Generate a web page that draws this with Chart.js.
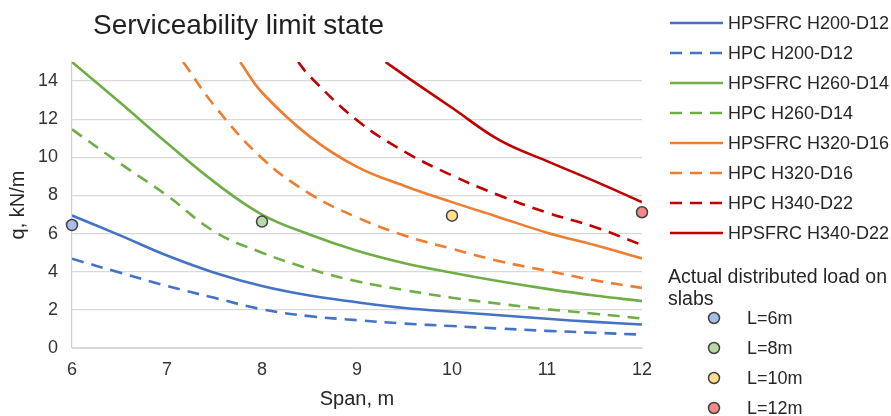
<!DOCTYPE html>
<html><head><meta charset="utf-8">
<script src="https://cdn.jsdelivr.net/npm/chart.js@4.4.1/dist/chart.umd.min.js"></script>
<style>
html,body{margin:0;padding:0;background:#fff;}
#wrap{position:relative;width:891px;height:416px;overflow:hidden;font-family:"Liberation Sans",Arial,sans-serif;color:#262626;}
#c{position:absolute;left:0;top:0;}
#title{position:absolute;left:93px;top:8px;font-size:28px;line-height:34px;white-space:nowrap;color:#1f1f1f;}
.leg{position:absolute;font-size:18px;line-height:22px;white-space:nowrap;}
.legsym{position:absolute;}
</style></head><body>
<div id="wrap">
<canvas id="c" width="891" height="416"></canvas>
<div id="title">Serviceability limit state</div>
<div id="legend"></div>
</div>
<script>
// ---- data ----
const spans = [6, 6.5, 7, 7.5, 8, 8.5, 9, 9.5, 10, 10.5, 11, 11.5, 12];
const hpsfrcH200D12 = [6.95, 5.92, 4.85, 3.95, 3.25, 2.75, 2.4, 2.1, 1.9, 1.72, 1.53, 1.37, 1.23];
const hpcH200D12    = [4.68, 3.96, 3.25, 2.63, 2.03, 1.67, 1.46, 1.28, 1.15, 1.02, 0.9, 0.8, 0.7];
const hpsfrcH260D14 = [15.0, 12.9, 10.75, 8.7, 7.0, 5.95, 5.1, 4.45, 3.95, 3.5, 3.1, 2.75, 2.46];
const hpcH260D14    = [11.47, 9.7, 8.0, 6.1, 5.0, 4.15, 3.5, 3.04, 2.64, 2.32, 2.03, 1.8, 1.55];
const spansH320S = [7.77, 8, 8.5, 9, 9.5, 10, 10.5, 11, 11.5, 12];
const hpsfrcH320D16 = [15.0, 13.4, 11.1, 9.5, 8.5, 7.65, 6.85, 6.05, 5.4, 4.7];
const spansH320C = [7.17, 7.5, 8, 8.5, 9, 9.5, 10, 10.5, 11, 11.5, 12];
const hpcH320D16    = [15.0, 12.7, 9.95, 8.1, 6.85, 5.9, 5.2, 4.55, 4.05, 3.55, 3.15];
const spansH340C = [8.38, 8.5, 9, 9.5, 10, 10.5, 11, 11.5, 12];
const hpcH340D22    = [15.0, 14.26, 11.94, 10.3, 9.05, 8.0, 7.1, 6.35, 5.4];
const spansH340S = [9.3, 9.5, 10, 10.5, 11, 11.5, 12];
const hpsfrcH340D22 = [15.0, 14.3, 12.6, 10.9, 9.8, 8.75, 7.65];
const loadLabels = ['L=6m', 'L=8m', 'L=10m', 'L=12m'];
const loadSpans = [6, 8, 10, 12];
const loadValues = [6.45, 6.63, 6.94, 7.12];
const yTicks = [0, 2, 4, 6, 8, 10, 12, 14];
const xTicks = [6, 7, 8, 9, 10, 11, 12];

// ---- styling ----
const BLUE = '#4472C4', GREEN = '#70AD47', ORANGE = '#ED7D31', RED = '#C00000';
const loadColors = ['#A7BFE8', '#B9D9A8', '#FFE08A', '#F28A8A'];
const DASH = [12, 8];

const series = [
  {label: 'HPSFRC H200-D12', xs: spans, ys: hpsfrcH200D12, color: BLUE, dashed: false},
  {label: 'HPC H200-D12', xs: spans, ys: hpcH200D12, color: BLUE, dashed: true},
  {label: 'HPSFRC H260-D14', xs: spans, ys: hpsfrcH260D14, color: GREEN, dashed: false},
  {label: 'HPC H260-D14', xs: spans, ys: hpcH260D14, color: GREEN, dashed: true},
  {label: 'HPSFRC H320-D16', xs: spansH320S, ys: hpsfrcH320D16, color: ORANGE, dashed: false},
  {label: 'HPC H320-D16', xs: spansH320C, ys: hpcH320D16, color: ORANGE, dashed: true},
  {label: 'HPC H340-D22', xs: spansH340C, ys: hpcH340D22, color: RED, dashed: true},
  {label: 'HPSFRC H340-D22', xs: spansH340S, ys: hpsfrcH340D22, color: RED, dashed: false}
];

const datasets = [{
  type: 'scatter',
  label: 'Actual distributed load on slabs',
  data: loadSpans.map((x, i) => ({x: x, y: loadValues[i]})),
  backgroundColor: loadColors,
  borderColor: '#404040',
  borderWidth: 1.5,
  pointRadius: 5.5,
  clip: false,
  order: 0
}].concat(series.map(s => ({
  type: 'line',
  label: s.label,
  data: s.xs.map((x, i) => ({x: x, y: s.ys[i]})),
  borderColor: s.color,
  borderWidth: 2.6,
  borderDash: s.dashed ? DASH : [],
  pointRadius: 0,
  tension: 0.4,
  fill: false,
  order: 1
})));

const FONT = '"Liberation Sans", Arial, sans-serif';
new Chart(document.getElementById('c'), {
  type: 'line',
  data: {datasets: datasets},
  options: {
    responsive: false,
    animation: false,
    layout: {padding: {left: 0, right: 249, top: 62, bottom: 0}},
    plugins: {legend: {display: false}, tooltip: {enabled: false}, title: {display: false}},
    scales: {
      x: {
        type: 'linear', min: 6, max: 12,
        afterBuildTicks: s => { s.ticks = xTicks.map(v => ({value: v})); },
        afterFit: s => { s.height = 68; },
        ticks: {font: {family: FONT, size: 18}, color: '#333', padding: 11},
        grid: {display: false, drawTicks: false},
        border: {color: '#d9d9d9', width: 1},
        title: {display: true, text: 'Span, m', font: {family: FONT, size: 20}, color: '#262626', padding: {top: 0, bottom: 5}}
      },
      y: {
        type: 'linear', min: 0, max: 15,
        afterBuildTicks: s => { s.ticks = yTicks.map(v => ({value: v})); },
        afterFit: s => { s.width = 72; },
        ticks: {font: {family: FONT, size: 18}, color: '#333', padding: 14},
        grid: {color: '#d9d9d9', lineWidth: 1.2, drawTicks: false},
        border: {color: '#cfcfcf', width: 1.2},
        title: {display: true, text: 'q, kN/m', font: {family: FONT, size: 20}, color: '#262626', padding: {top: 6, bottom: 0}}
      }
    }
  }
});

// ---- HTML legend ----
const leg = document.getElementById('legend');
let html = '';
series.forEach((s, i) => {
  const cy = 23 + i * 30;
  html += '<svg class="legsym" style="left:670px;top:' + (cy - 3) + 'px" width="53" height="6">' +
    '<line x1="0" y1="3" x2="53" y2="3" stroke="' + s.color + '" stroke-width="2.6"' +
    (s.dashed ? ' stroke-dasharray="' + DASH.join(',') + '"' : '') + '/></svg>';
  html += '<div class="leg" style="left:728px;top:' + (cy - 11) + 'px">' + s.label + '</div>';
});
html += '<div class="leg" style="left:668px;top:265px;font-size:19.5px;line-height:22px;">Actual distributed load on<br>slabs</div>';
loadLabels.forEach((l, i) => {
  const cy = 318 + i * 30;
  html += '<svg class="legsym" style="left:707px;top:' + (cy - 7) + 'px" width="14" height="14">' +
    '<circle cx="7" cy="7" r="5.5" fill="' + loadColors[i] + '" stroke="#404040" stroke-width="1.5"/></svg>';
  html += '<div class="leg" style="left:747px;top:' + (cy - 11) + 'px">' + l + '</div>';
});
leg.innerHTML = html;
</script>
</body></html>
